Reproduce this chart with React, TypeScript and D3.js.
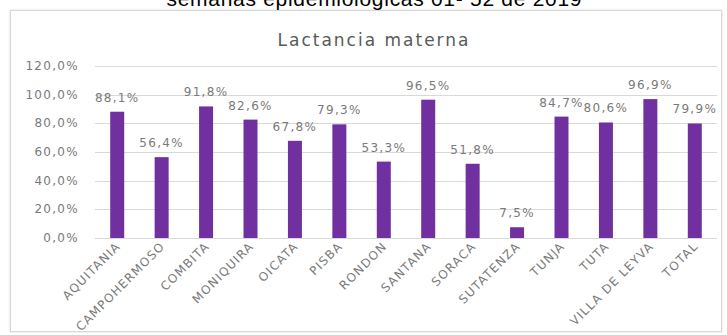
import React from "react";
import * as d3 from "d3";

const categories = ["AQUITANIA","CAMPOHERMOSO","COMBITA","MONIQUIRA","OICATA","PISBA","RONDON","SANTANA","SORACA","SUTATENZA","TUNJA","TUTA","VILLA DE LEYVA","TOTAL"];
const values = [88.1, 56.4, 91.8, 82.6, 67.8, 79.3, 53.3, 96.5, 51.8, 7.5, 84.7, 80.6, 96.9, 79.9];
const yTicks = [0, 20, 40, 60, 80, 100, 120];
const pageTitle = "semanas epidemiológicas 01- 52 de 2019";
const chartTitle = "Lactancia materna";

const fmt = (v: number) => v.toFixed(1).replace(".", ",") + "%";

export default function App() {
  const W = 727, H = 335;
  const x = d3.scaleBand<string>().domain(categories).range([95, 717]).paddingInner(0.685).paddingOuter(0.3425);
  const y = d3.scaleLinear().domain([0, 120]).range([238, 66]);
  const gray = "#7a7a7a";
  const font = "'DejaVu Sans', sans-serif";
  return (
    <div style={{ position: "absolute", left: 0, top: 0 }}>
      <svg width={W} height={H} style={{ display: "block", background: "#fff" }}>
        <defs>
          <filter id="sh" x="-5%" y="-5%" width="110%" height="110%">
            <feDropShadow dx="0" dy="0" stdDeviation="1.2" floodColor="#000" floodOpacity="0.15" />
          </filter>
        </defs>
        <rect x={10.5} y={10.5} width={711} height={321} fill="#fff" stroke="#d9d9d9" filter="url(#sh)" />
        <text x={374} y={6} textAnchor="middle" fontFamily="'Liberation Sans', Arial, sans-serif" fontSize={21} fill="#000" textLength={415} lengthAdjust="spacing">{pageTitle}</text>
        <text x={374} y={46} textAnchor="middle" fontFamily={font} fontSize={17} fill="#595959" letterSpacing={2}>{chartTitle}</text>
        {yTicks.map(t => (
          <g key={t}>
            <line x1={95} x2={717} y1={Math.round(y(t)) + 0.5} y2={Math.round(y(t)) + 0.5} stroke="#d9d9d9" strokeWidth={1} />
            <text x={79} y={y(t) + 4} textAnchor="end" fontFamily={font} fontSize={12} fill={gray} letterSpacing={1.3}>{fmt(t)}</text>
          </g>
        ))}
        {categories.map((c, i) => {
          const bx = x(c)!;
          const cx = bx + x.bandwidth() / 2;
          return (
            <g key={c}>
              <rect x={bx} y={y(values[i])} width={x.bandwidth()} height={y(0) - y(values[i])} fill="#7030A0" />
              <text x={cx} y={y(values[i]) - 10} textAnchor="middle" fontFamily={font} fontSize={12} fill={gray} letterSpacing={1.3}>{fmt(values[i])}</text>
              <text transform={`translate(${cx + 4},${247}) rotate(-45)`} textAnchor="end" fontFamily={font} fontSize={12} fill={gray} letterSpacing={1.2}>{c}</text>
            </g>
          );
        })}
      </svg>
    </div>
  );
}
